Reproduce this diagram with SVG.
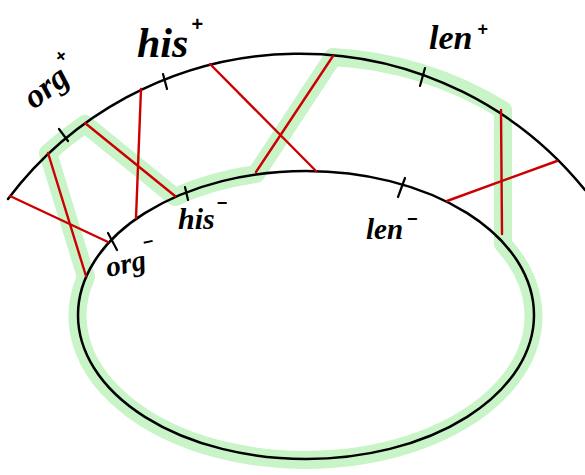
<svg xmlns="http://www.w3.org/2000/svg" width="585" height="475" viewBox="0 0 585 475">
<style>
.curve{fill:none;stroke:#000;stroke-width:2.5;stroke-linecap:round}
.tick{stroke:#000;stroke-width:2.2;stroke-linecap:round}
.red{stroke:#cc0000;stroke-width:2.4;stroke-linecap:round}
.hl{fill:none;stroke:#c8f4c8;stroke-width:18;stroke-linejoin:round;stroke-linecap:round}
.lbl{font-family:"Liberation Serif",serif;font-style:italic;font-weight:bold;fill:#000}
.sup{font-family:"Liberation Sans",sans-serif;font-style:normal;font-weight:bold}
</style>
<rect width="585" height="475" fill="#fff"/>
<g id="highlight">
<path class="hl" d="M 86 277 L 48 153 A 366 366 0 0 1 85 124 L 175 197 A 228 144 0 0 1 256 174 L 333 57 A 366 366 0 0 1 503 110 L 503 244 A 228 144 0 1 1 86 277 Z"/>
</g>
<g id="outer-band">
<path class="curve" d="M 8 199 A 366 366 0 0 1 585 190"/>
</g>
<g id="inner-ellipse">
<ellipse class="curve" cx="306" cy="315" rx="228" ry="144"/>
</g>
<g id="connectors">
<line class="red" x1="10" y1="196" x2="108" y2="242"/>
<line class="red" x1="48" y1="153" x2="86" y2="276"/>
<line class="red" x1="85" y1="123" x2="175" y2="196"/>
<line class="red" x1="141" y1="89" x2="136" y2="218"/>
<line class="red" x1="210" y1="64" x2="316" y2="171"/>
<line class="red" x1="333" y1="56" x2="256" y2="172"/>
<line class="red" x1="501" y1="110" x2="502" y2="234"/>
<line class="red" x1="447" y1="201" x2="557" y2="161"/>
</g>
<g id="ticks">
<line class="tick" x1="59" y1="129" x2="68" y2="141"/>
<line class="tick" x1="163" y1="74" x2="167" y2="89"/>
<line class="tick" x1="425" y1="68" x2="420" y2="86"/>
<line class="tick" x1="185" y1="187" x2="188" y2="200"/>
<line class="tick" x1="108" y1="233" x2="117" y2="250"/>
<line class="tick" x1="405" y1="178" x2="398" y2="197"/>
</g>
<g id="labels">
<text class="lbl" font-size="34" transform="translate(34,110) rotate(-38)">org<tspan class="sup" font-size="18" dx="2" dy="-20">+</tspan></text>
<text class="lbl" font-size="42" x="137" y="57">his<tspan class="sup" font-size="20" dx="3" dy="-26">+</tspan></text>
<text class="lbl" font-size="34" x="429" y="49">len<tspan class="sup" font-size="18" dx="5" dy="-14">+</tspan></text>
<text class="lbl" font-size="30" x="178" y="229">his<tspan class="sup" font-size="18" dx="2" dy="-20">−</tspan></text>
<text class="lbl" font-size="29" x="366" y="239">len<tspan class="sup" font-size="18" dx="4" dy="-14">−</tspan></text>
<text class="lbl" font-size="29" transform="translate(108,277) rotate(-12)">org<tspan class="sup" font-size="18" dx="1" dy="-20">−</tspan></text>
</g>
</svg>
